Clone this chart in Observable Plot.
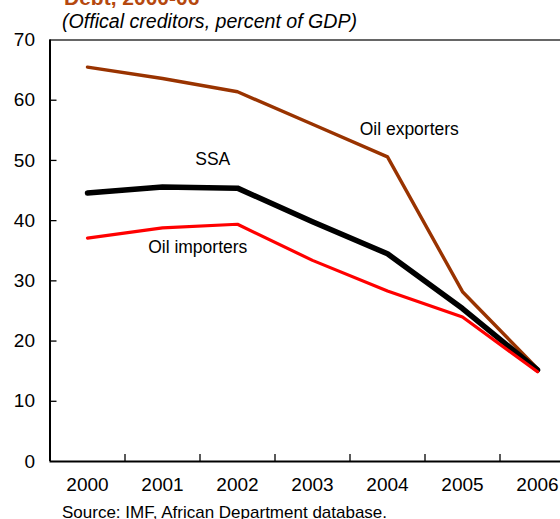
<!DOCTYPE html>
<html>
<head>
<meta charset="utf-8">
<script src="https://cdn.jsdelivr.net/npm/d3@7"></script>
<script src="https://cdn.jsdelivr.net/npm/@observablehq/plot@0.6"></script>
<style>
  html, body { margin: 0; padding: 0; background: #fff; overflow: hidden; }
  #wrap { position: relative; width: 560px; height: 519px; overflow: hidden; font-family: "Liberation Sans", Arial, sans-serif; color: #000; }
  #wrap svg { position: absolute; left: 0; top: 0; max-width: none !important; background: transparent !important; }
  .title { position: absolute; left: 64px; top: -13px; font-size: 21px; line-height: 21px; font-weight: bold; color: #b5480f; white-space: nowrap; }
  .subtitle { position: absolute; left: 62px; top: 12px; font-size: 19.6px; line-height: 19.6px; font-style: italic; white-space: nowrap; }
  .source { position: absolute; left: 62px; top: 504px; font-size: 17px; line-height: 17px; white-space: nowrap; }
</style>
</head>
<body>
<div id="wrap">
  <div class="title">Debt, 2000-06</div>
  <div class="subtitle">(Offical creditors, percent of GDP)</div>
  <div class="source">Source: IMF, African Department database.</div>
</div>
<script>
const years = [2000, 2001, 2002, 2003, 2004, 2005, 2006];
const oilExporters = [65.5, 63.6, 61.4, 56.0, 50.6, 28.2, 15.4];
const ssa = [44.6, 45.6, 45.4, 39.8, 34.5, 25.4, 15.2];
const oilImporters = [37.1, 38.8, 39.4, 33.4, 28.3, 24.0, 14.9];
const yTicks = [0, 10, 20, 30, 40, 50, 60, 70];
const seriesNames = ["Oil exporters", "SSA", "Oil importers"];
const seriesColors = ["#993300", "#000000", "#ff0000"];
const seriesWidths = [3.4, 5.5, 3.2];
const labelYears = [2004.29, 2001.67, 2001.47];
const labelValues = [55.2, 50.1, 35.6];

const seriesValues = [oilExporters, ssa, oilImporters];
const boundaries = years.slice(0, -1).map(y => y + 0.5);

const lineMarks = seriesNames.map((name, s) =>
  Plot.line(years.map((yr, i) => ({year: yr, value: seriesValues[s][i]})), {
    x: "year", y: "value", stroke: seriesColors[s], strokeWidth: seriesWidths[s],
    strokeLinejoin: "round", strokeLinecap: "round"
  })
);

const labels = seriesNames.map((name, s) => ({name, year: labelYears[s], value: labelValues[s]}));

const chart = Plot.plot({
  width: 560,
  height: 519,
  marginLeft: 49.5,
  marginRight: 0,
  marginTop: 39.5,
  marginBottom: 58,
  style: {fontFamily: "'Liberation Sans', Arial, sans-serif", fontSize: "19px", color: "#000", background: "transparent", overflow: "hidden"},
  x: {domain: [years[0] - 0.5, years[years.length - 1] + 0.5], range: [49.5, 574.5]},
  y: {domain: [0, 70], range: [461, 39.5]},
  marks: [
    Plot.axisX(years, {tickSize: 0, tickPadding: 15.5, tickFormat: d => String(d), fontSize: 19, label: null}),
    Plot.axisX(boundaries, {tickSize: -7, tickFormat: () => "", strokeWidth: 1.3, label: null}),
    Plot.axisY(yTicks, {tickSize: 0, tickPadding: 15, fontSize: 19, label: null}),
    Plot.axisY(yTicks.slice(1, -1), {tickSize: -7, tickFormat: () => "", strokeWidth: 1.3, label: null}),
    Plot.ruleY([70], {stroke: "#333", strokeWidth: 1.5}),
    ...lineMarks,
    Plot.ruleY([0], {stroke: "#000", strokeWidth: 2}),
    Plot.ruleX([years[0] - 0.5], {stroke: "#000", strokeWidth: 2}),
    Plot.text(labels, {x: "year", y: "value", text: "name", fontSize: 17.5, fill: "#000", textAnchor: "middle"})
  ]
});
document.getElementById("wrap").appendChild(chart);
</script>
</body>
</html>
